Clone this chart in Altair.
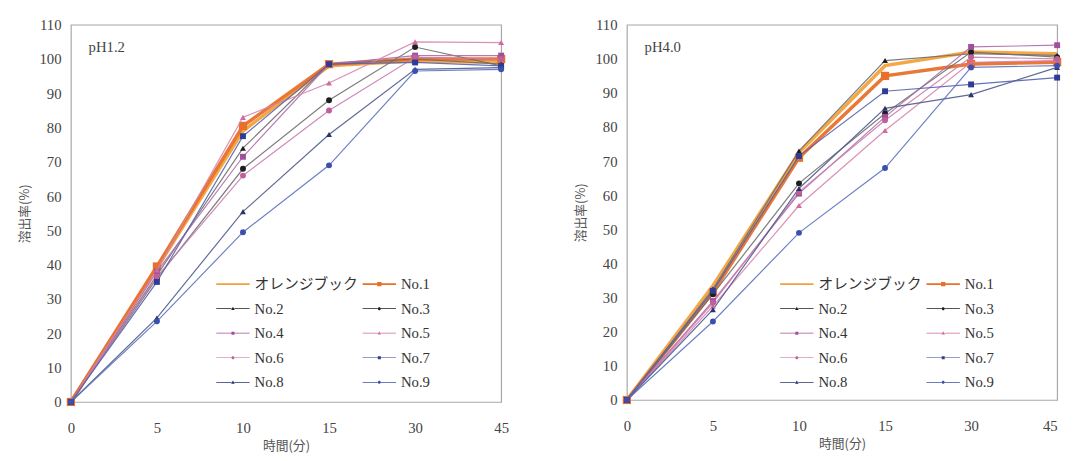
import altair as alt
import pandas as pd

# ---------------- data ----------------
times = ["0", "5", "10", "15", "30", "45"]
series = ["オレンジブック", "No.1", "No.2", "No.3", "No.4", "No.5", "No.6", "No.7", "No.8", "No.9"]

# pH1.2
ph12_orange = [0, 39.0, 79.0, 98.0, 99.5, 99.0]
ph12_no1 = [0, 39.5, 80.5, 98.5, 100.0, 100.0]
ph12_no2 = [0, 37.0, 74.0, 98.5, 100.0, 98.5]
ph12_no3 = [0, 36.0, 68.0, 88.0, 103.5, 98.0]
ph12_no4 = [0, 38.0, 71.5, 98.5, 101.0, 101.0]
ph12_no5 = [0, 38.5, 83.0, 93.0, 105.0, 104.8]
ph12_no6 = [0, 36.5, 66.0, 85.0, 100.5, 100.0]
ph12_no7 = [0, 35.0, 77.5, 98.5, 99.0, 98.0]
ph12_no8 = [0, 24.5, 55.5, 78.0, 97.0, 97.5]
ph12_no9 = [0, 23.5, 49.5, 69.0, 96.5, 97.0]

# pH4.0
ph40_orange = [0, 33.5, 72.5, 98.0, 102.0, 101.5]
ph40_no1 = [0, 31.5, 71.0, 95.0, 98.5, 99.0]
ph40_no2 = [0, 32.5, 73.0, 99.5, 101.5, 101.0]
ph40_no3 = [0, 31.0, 63.5, 84.0, 102.0, 100.5]
ph40_no4 = [0, 29.0, 60.5, 83.0, 103.5, 104.0]
ph40_no5 = [0, 27.5, 57.0, 79.0, 99.0, 99.5]
ph40_no6 = [0, 28.5, 61.0, 82.0, 100.5, 100.0]
ph40_no7 = [0, 32.0, 71.5, 90.5, 92.5, 94.5]
ph40_no8 = [0, 26.5, 62.0, 85.5, 89.5, 97.5]
ph40_no9 = [0, 23.0, 49.0, 68.0, 97.5, 98.0]

ph12 = [ph12_orange, ph12_no1, ph12_no2, ph12_no3, ph12_no4,
        ph12_no5, ph12_no6, ph12_no7, ph12_no8, ph12_no9]
ph40 = [ph40_orange, ph40_no1, ph40_no2, ph40_no3, ph40_no4,
        ph40_no5, ph40_no6, ph40_no7, ph40_no8, ph40_no9]


def long_table(values_list):
    rows = []
    for s, vals in zip(series, values_list):
        for i, (t, v) in enumerate(zip(times, vals)):
            rows.append({"series": s, "time": t, "idx": i, "value": v})
    return pd.DataFrame(rows)


# ---------------- styles ----------------
colors = ["#F2A23C", "#E8702A", "#1E1E1E", "#1E1E1E", "#A0509A",
          "#CF6B9E", "#C0609A", "#2E3C96", "#28346E", "#3A50AE"]
line_colors = ["#F2A23C", "#E8702A", "#6E6E6E", "#6E6E6E", "#AE6AAA",
               "#D585B0", "#C97CB0", "#5563AE", "#4F5A8C", "#5E72BE"]
thick_series = series[:2]
thin_series = series[2:]
marker_shapes = ["triangle-up", "circle", "square", "triangle-up",
                 "circle", "square", "triangle-up", "circle"]

THIN = "M-1,-0.02H-0.09V0.02H-1ZM0.09,-0.02H1V0.02H0.09Z"
SQ = "M-0.09,-0.09H0.09V0.09H-0.09Z"
TRI = "M0,-0.11L0.11,0.08H-0.11Z"
CIR = "M-0.09,0A0.09,0.09 0 1,0 0.09,0A0.09,0.09 0 1,0 -0.09,0Z"
legend_paths = [
    "M-1,-0.055H1V0.055H-1Z",
    "M-1,-0.055H-0.13V0.055H-1ZM0.13,-0.055H1V0.055H0.13ZM-0.13,-0.13H0.13V0.13H-0.13Z",
    THIN + TRI, THIN + CIR, THIN + SQ, THIN + TRI, THIN + CIR,
    THIN + SQ, THIN + TRI, THIN + CIR,
]

NUM_FONT = "'Liberation Serif', 'Noto Sans CJK JP', serif"
JP_FONT = "Noto Sans CJK JP"
PLOT_W = 438


def in_list(names):
    return alt.FieldOneOfPredicate(field="series", oneOf=names)


def panel(values_list, label, height, legend_x, right_panel):
    df = long_table(values_list)
    axis_kw = dict(
        title="時間(分)", labelAngle=0, labelFont=NUM_FONT, labelFontSize=15,
        labelColor="#444", labelPadding=19, titleFont=JP_FONT, titleFontSize=13,
        titleFontWeight="normal", titleColor="#555", titlePadding=4,
        domain=False, ticks=False, grid=False,
    )
    if right_panel:
        axis_kw["labelAlign"] = alt.expr("datum.label == '45' ? 'right' : 'center'")
    x = alt.X("time:N", sort=times,
              scale=alt.Scale(type="point", padding=0, domain=times),
              axis=alt.Axis(**axis_kw))
    y = alt.Y("value:Q", scale=alt.Scale(domain=[0, 110], nice=False),
              axis=alt.Axis(title="溶出率(%)", values=list(range(0, 111, 10)),
                            labelFont=NUM_FONT, labelFontSize=15, labelColor="#444",
                            labelPadding=10, titleFont=JP_FONT, titleFontSize=13,
                            titleFontWeight="normal", titleColor="#555",
                            titlePadding=8, domain=False, ticks=False, grid=False))
    base = alt.Chart(df).encode(x=x, y=y)
    line_color = alt.Color("series:N", scale=alt.Scale(domain=series, range=line_colors), legend=None)
    mark_color = alt.Color("series:N", scale=alt.Scale(domain=series, range=colors), legend=None)

    thin_lines = base.transform_filter(in_list(thin_series)).mark_line(
        strokeWidth=1.2, opacity=0.9).encode(
        color=line_color, detail="series:N", order=alt.Order("idx:Q"))
    thick_lines = base.transform_filter(in_list(thick_series)).mark_line(
        strokeWidth=3.5, opacity=0.95).encode(
        color=line_color, detail="series:N", order=alt.Order("idx:Q"))
    thin_points = base.transform_filter(in_list(thin_series)).mark_point(
        filled=True, opacity=1, size=36).encode(
        color=mark_color,
        shape=alt.Shape("series:N", scale=alt.Scale(domain=thin_series, range=marker_shapes), legend=None),
    )
    no1_points = base.transform_filter(in_list([series[1]])).mark_point(
        filled=True, opacity=1, size=70, shape="square").encode(color=mark_color)

    leg = alt.Legend(
        orient="none", legendX=legend_x, legendY=247, columns=2, direction="horizontal",
        title=None, labelFont=NUM_FONT, labelFontSize=15, labelColor="#333", labelOffset=5,
        symbolSize=1156, symbolStrokeWidth=0, symbolOpacity=1,
        rowPadding=-9, columnPadding=4, padding=0,
    )
    legend_layer = base.transform_filter("datum.value < -1000").mark_point(
        filled=True, opacity=1, size=1156).encode(
        color=alt.Color("series:N", scale=alt.Scale(domain=series, range=colors), legend=leg),
        shape=alt.Shape("series:N", scale=alt.Scale(domain=series, range=legend_paths), legend=leg),
    )
    text = alt.Chart(pd.DataFrame({"label": [label]})).mark_text(
        align="left", baseline="middle", font=NUM_FONT, fontSize=15, color="#444"
    ).encode(x=alt.value(18), y=alt.value(23), text="label:N")

    return alt.layer(thick_lines, no1_points, thin_lines, thin_points,
                     legend_layer, text).resolve_scale(
        color="independent", shape="independent",
    ).properties(width=PLOT_W, height=height)


left = panel(ph12, "pH1.2", 384, 148, False)
right = panel(ph40, "pH4.0", 382, 156, True)

chart = alt.hconcat(left, right, spacing=64).properties(
    padding={"left": 9, "top": 5, "right": 0, "bottom": 0}
).configure_view(stroke="#a8a8a8", strokeWidth=1.2)

chart.save("out.html", embed_options={"renderer": "svg", "actions": False})
